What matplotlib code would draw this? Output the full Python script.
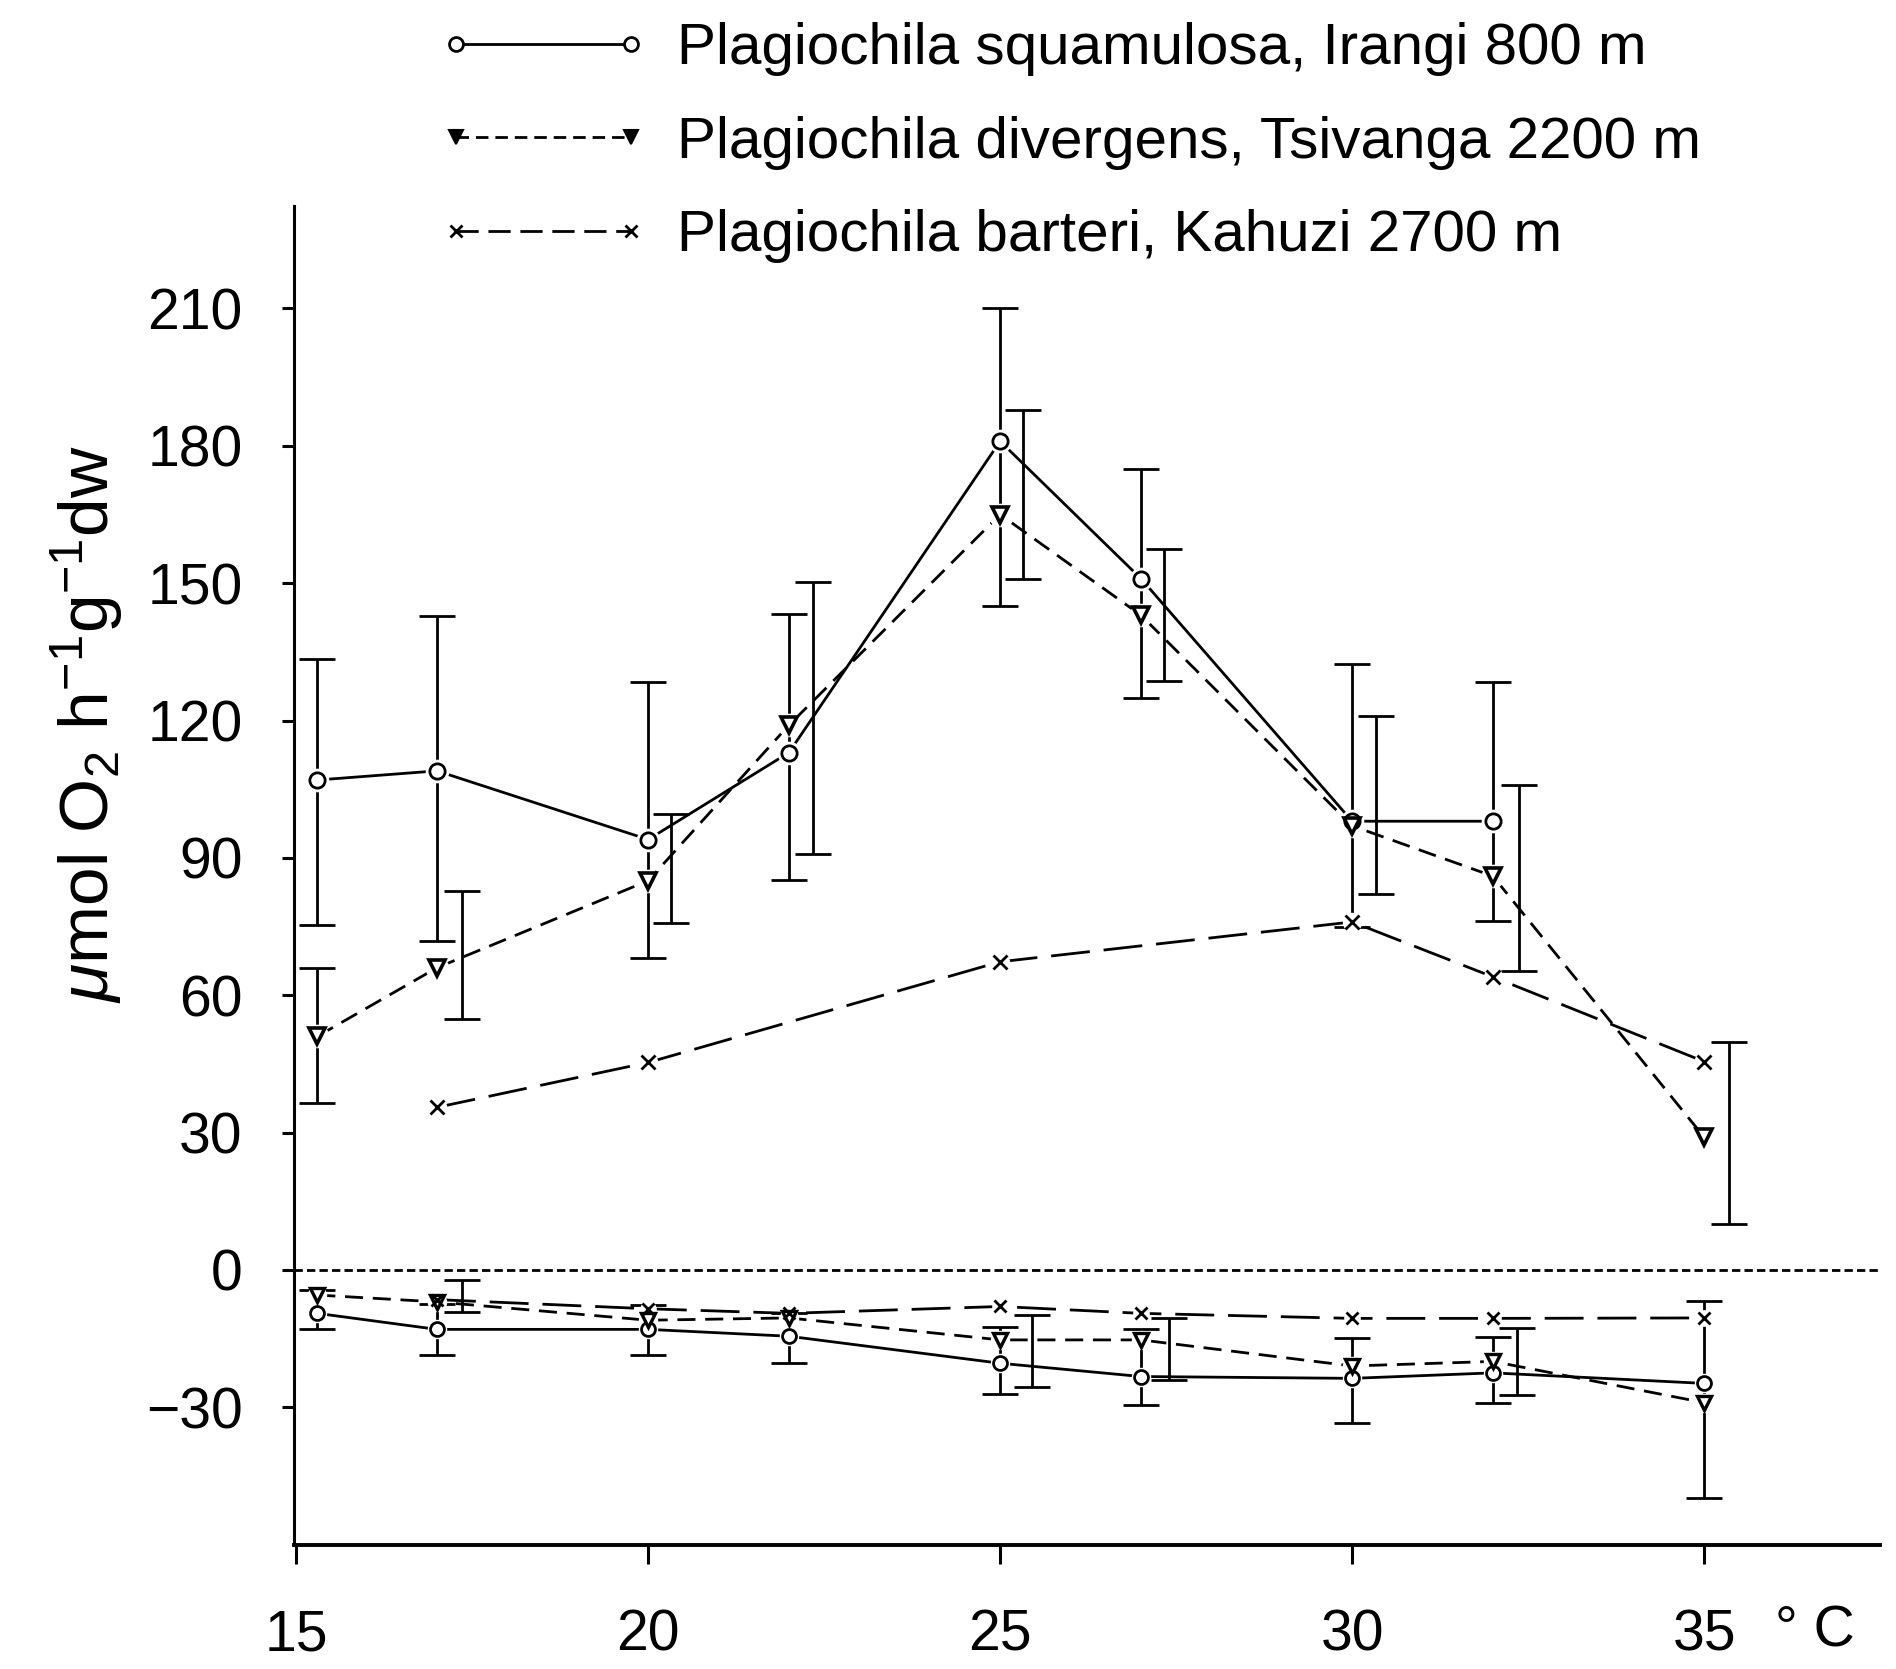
import numpy as np
import matplotlib
matplotlib.use("Agg")
import matplotlib.pyplot as plt
from matplotlib.lines import Line2D

plt.rcParams['font.family'] = ['Liberation Sans', 'DejaVu Sans']
plt.rcParams['mathtext.fontset'] = 'custom'
plt.rcParams['mathtext.rm'] = 'Liberation Sans'
plt.rcParams['mathtext.it'] = 'Liberation Sans:italic'
plt.rcParams['lines.scale_dashes'] = False

nan = np.nan

# ---------------- data ----------------
temps = [15.3, 17, 20, 22, 25, 27, 30, 32, 35]

# net photosynthesis (positive values)
squam_ps = [107, 109, 94, 113, 181, 151, 98, 98, nan]
diverg_ps = [51, 66, 85, 119, 165, 143, 97, 86, 29]
barteri_ps_t = [17, 20, 25, 30, 32, 35]
barteri_ps = [35.5, 45.3, 67.3, 76, 64, 45.5]

# dark respiration (negative values)
squam_resp = [-9.5, -13, -13, -14.5, -20.4, -23.3, -23.7, -22.5, -24.8]
diverg_resp = [-5.5, -7, -11, -10.5, -15.3, -15.3, -21, -20, -29]
barteri_resp_t = [17, 20, 22, 25, 27, 30, 32, 35]
barteri_resp = [-6.5, -8.5, -9.5, -8, -9.5, -10.6, -10.6, -10.5]

# error bars (x position, low end, high end)
squam_ps_err_x = [15.3, 17, 20, 22, 25, 27, 30, 32]
squam_ps_lo = [75.3, 71.9, 68.2, 85.2, 145, 125, 75, 76.3]
squam_ps_hi = [133.4, 142.9, 128.5, 143.2, 210, 175, 132.4, 128.5]

diverg_ps_err_x = [15.3, 17.35, 20.32, 22.34, 25.33, 27.33, 30.34, 32.37, 35.35]
diverg_ps_lo = [36.5, 54.8, 75.8, 90.9, 151, 128.7, 82, 65.2, 10]
diverg_ps_hi = [66, 82.8, 99.6, 150.3, 187.8, 157.5, 121, 105.9, 49.7]

squam_resp_err_x = [15.3, 17, 20, 22, 25, 27, 32]
squam_resp_lo = [-13, -18.6, -18.6, -20.4, -27.2, -29.5, -29]
squam_resp_hi = [-4.5, -7.5, -7.6, -9.5, -12.4, -13, -14.7]

diverg_resp_err_x = [17.36, 25.45, 27.4, 30, 32.34, 35]
diverg_resp_lo = [-9.2, -25.5, -24, -33.5, -27.3, -49.9]
diverg_resp_hi = [-2.2, -9.8, -10.5, -14.9, -12.7, -6.9]

labels = ["Plagiochila squamulosa, Irangi 800 m",
          "Plagiochila divergens, Tsivanga 2200 m",
          "Plagiochila barteri, Kahuzi 2700 m"]

xticks = [15, 20, 25, 30, 35]
yticks = [-30, 0, 30, 60, 90, 120, 150, 180, 210]

# ---------------- styles ----------------
SOLID = '-'
SHORT = (0, (13, 7))
LONG = (0, (28, 10))
ZERO = (0, (6, 3))
LW = 2.0

fig = plt.figure(figsize=(18.96, 16.69), dpi=100)
ax = fig.add_axes([0.1551, 0.0743, 0.8365, 0.8023])


def draw_series(x, y, ls, marker, ms, mfc, mew=2.0, halo=17):
    ax.plot(x, y, color='k', lw=LW, ls=ls, zorder=2, solid_capstyle='butt')
    ax.plot(x, y, ls='none', marker='o', ms=halo, mfc='white', mec='white',
            mew=0, zorder=3)
    ax.plot(x, y, ls='none', marker=marker, ms=ms, mfc=mfc, mec='k',
            mew=mew, zorder=4)


def draw_err(x, lo, hi):
    lo = np.asarray(lo, float)
    hi = np.asarray(hi, float)
    ax.errorbar(x, (lo + hi) / 2, yerr=(hi - lo) / 2, fmt='none', ecolor='k',
                elinewidth=LW, capsize=13, capthick=LW, zorder=2)


draw_err(squam_ps_err_x, squam_ps_lo, squam_ps_hi)
draw_err(diverg_ps_err_x, diverg_ps_lo, diverg_ps_hi)
draw_err(squam_resp_err_x, squam_resp_lo, squam_resp_hi)
draw_err(diverg_resp_err_x, diverg_resp_lo, diverg_resp_hi)

draw_series(temps, squam_ps, SOLID, 'o', 11, 'white')
draw_series(temps, diverg_ps, SHORT, 'v', 11, 'white', mew=2.6)
draw_series(barteri_ps_t, barteri_ps, LONG, 'x', 10, 'k', halo=14)

draw_series(temps, squam_resp, SOLID, 'o', 10, 'white', halo=14)
draw_series(temps, diverg_resp, SHORT, 'v', 10, 'white', mew=2.4, halo=14)
draw_series(barteri_resp_t, barteri_resp, LONG, 'x', 9, 'k', halo=12)

ax.axhline(0, color='k', lw=LW, ls=ZERO, zorder=1)

ax.set_xlim(14.97, 37.5)
ax.set_ylim(-60.1, 232.4)
ax.set_xticks(xticks)
ax.set_yticks(yticks)
ax.set_xticklabels([str(t) for t in xticks])
ax.set_yticklabels([str(t).replace('-', '\u2212') for t in yticks])

for s in ['top', 'right']:
    ax.spines[s].set_visible(False)
ax.spines['left'].set_linewidth(2.2)
ax.spines['bottom'].set_linewidth(2.8)
ax.tick_params(axis='x', direction='out', length=14, width=2.2, pad=32,
               labelsize=41)
ax.tick_params(axis='y', direction='out', length=9, width=2.2, pad=28,
               labelsize=41)

fig.text(0.046, 0.566, r'$\mu$mol O$_2$ h$^{-1}$g$^{-1}$dw', rotation=90,
         ha='center', va='center', fontsize=50)
fig.text(0.957, 0.0222, '\u00b0 C', ha='center', va='center', fontsize=41)

handles = [
    Line2D([], [], color='k', lw=LW, ls=SOLID, marker='o', ms=10, mfc='white',
           mec='k', mew=2),
    Line2D([], [], color='k', lw=LW, ls=(0, (9, 5)), marker='v', ms=10,
           mfc='k', mec='k', mew=1.5),
    Line2D([], [], color='k', lw=LW, ls=(0, (16, 7)), marker='x', ms=8,
           mfc='k', mec='k', mew=2),
]
fig.legend(handles, labels, loc='upper left',
           bbox_to_anchor=(438 / 1896, 1 - 22 / 1669), frameon=False,
           numpoints=2, handlelength=3.6, handletextpad=0.5,
           labelspacing=0.68, borderpad=0, borderaxespad=0, fontsize=42)

fig.savefig('out.png', dpi=100)
